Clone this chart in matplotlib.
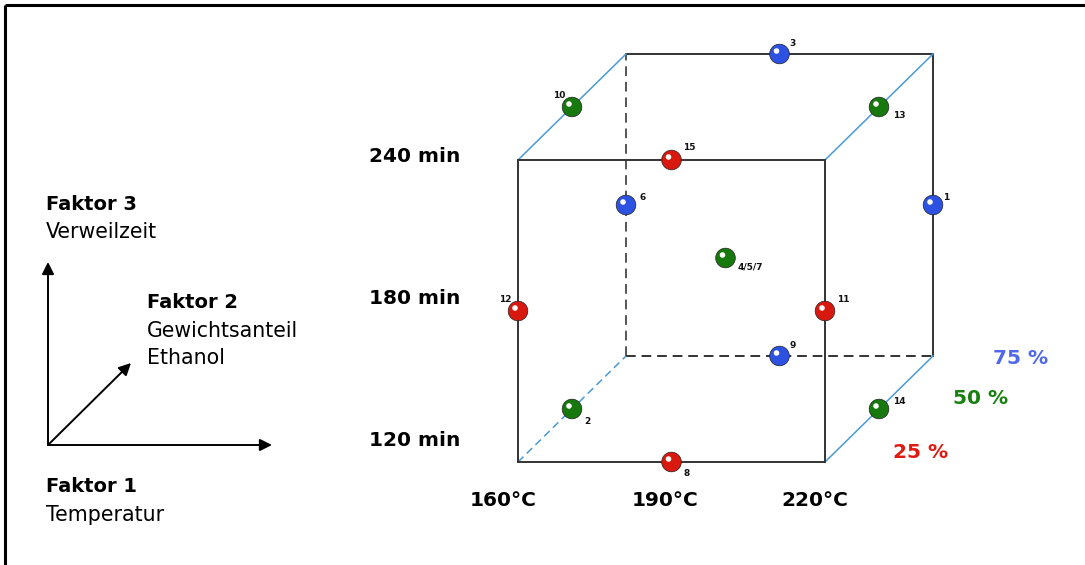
import numpy as np
import matplotlib
matplotlib.use("Agg")
import matplotlib.pyplot as plt

plt.rcParams["font.family"] = ["DejaVu Sans"]

# Box-Behnken design, coded levels (-1, 0, 1)
runs = ["1", "2", "3", "4/5/7", "6", "8", "9", "10", "11", "12", "13", "14", "15"]
temp = [1, -1, 0, 0, -1, 0, 0, -1, 1, -1, 1, 1, 0]
ethanol = [1, 0, 1, 0, 1, -1, 1, 0, -1, -1, 0, 0, -1]
time = [0, -1, 1, 0, 0, -1, -1, 1, 0, 0, 1, -1, 1]

temp_labels = ["160°C", "190°C", "220°C"]
time_labels = ["120 min", "180 min", "240 min"]
eth_labels = ["25 %", "50 %", "75 %"]

eth_colors = {-1: "#d8190f", 0: "#17780e", 1: "#2d52e2"}
eth_text_colors = {-1: "#e01a10", 0: "#17800e", 1: "#5068ea"}

# projection of the cube onto the picture (pixels)
x0, y0 = 518, 462
wx, hz = 307, 302
dx, dy = 108, -106


def proj(t, e, z):
    t, e, z = np.asarray(t, float), np.asarray(e, float), np.asarray(z, float)
    px = x0 + (t + 1) / 2 * wx + (e + 1) / 2 * dx
    py = y0 - (z + 1) / 2 * hz + (e + 1) / 2 * dy
    return px, py


fig = plt.figure(figsize=(10.85, 5.65), dpi=100)
ax = fig.add_axes([0, 0, 1, 1])
ax.set_xlim(0, 1085)
ax.set_ylim(565, 0)
ax.axis("off")

# frame (top and left only, picture is cropped)
ax.plot([5, 1085], [5, 5], color="black", lw=2.2, solid_capstyle="butt")
ax.plot([5, 5], [5, 565], color="black", lw=2.2, solid_capstyle="butt")

dark = "#333333"
blue_edge = "#4a9ad6"


def edge(a, b, color, ls="-", lw=1.4):
    xa, ya = proj(*a)
    xb, yb = proj(*b)
    ax.plot([xa, xb], [ya, yb], color=color, ls=ls, lw=lw, dashes=(5, 3) if ls == "--" else (None, None), zorder=1)


# hidden edges
edge((-1, 1, -1), (-1, 1, 1), "#555555", "--")
edge((-1, 1, -1), (1, 1, -1), dark, "--")
edge((-1, -1, -1), (-1, 1, -1), blue_edge, "--", 1.1)
# back face visible edges
edge((-1, 1, 1), (1, 1, 1), dark)
edge((1, 1, -1), (1, 1, 1), dark)
# depth edges
edge((-1, -1, 1), (-1, 1, 1), blue_edge, lw=1.1)
edge((1, -1, 1), (1, 1, 1), blue_edge, lw=1.1)
edge((1, -1, -1), (1, 1, -1), blue_edge, lw=1.1)
# front face
edge((-1, -1, -1), (1, -1, -1), dark)
edge((-1, -1, 1), (1, -1, 1), dark)
edge((-1, -1, -1), (-1, -1, 1), dark)
edge((1, -1, -1), (1, -1, 1), dark)

# design points as glossy spheres
px, py = proj(temp, ethanol, time)
cols = [eth_colors[e] for e in ethanol]
ax.scatter(px, py, s=200, c=cols, edgecolors="#222222", linewidths=0.5, zorder=3)
ax.scatter(px - 3, py - 3, s=16, c="white", edgecolors="none", zorder=4)

label_off = {"1": (10, -8, "left"), "2": (12, 12, "left"), "3": (10, -10, "left"),
             "4/5/7": (12, 9, "left"), "6": (14, -8, "left"), "8": (12, 12, "left"),
             "9": (10, -10, "left"), "10": (-7, -12, "right"), "11": (12, -12, "left"),
             "12": (-6, -12, "right"), "13": (14, 8, "left"), "14": (14, -7, "left"),
             "15": (12, -12, "left")}
for r, x, y in zip(runs, px, py):
    ox, oy, ha = label_off[r]
    ax.text(x + ox, y + oy, r, fontsize=6.5, fontweight="bold", color="#111111",
            ha=ha, va="center", zorder=5)

# factor level labels
for lvl, lab, off in zip([-1, 0, 1], temp_labels, [-14.5, -6, -10]):
    x, y = proj(lvl, -1, -1)
    ax.text(float(x) + off, 500, lab, fontsize=14.5, fontweight="bold", ha="center", va="center")
for lvl, lab, off in zip([-1, 0, 1], time_labels, [-22, -13, -3]):
    x, y = proj(-1, -1, lvl)
    ax.text(460, float(y) + off, lab, fontsize=14.5, fontweight="bold", ha="right", va="center")
for lvl, lab, offx, offy in zip([-1, 0, 1], eth_labels, [96, 102, 88], [-10, -10, 3]):
    x, y = proj(1, lvl, -1)
    ax.text(float(x) + offx, float(y) + offy, lab, fontsize=14.5, fontweight="bold",
            color=eth_text_colors[lvl], ha="center", va="center")

# factor legend on the left
arrow = dict(arrowstyle="-|>", color="black", lw=1.4, mutation_scale=18, shrinkA=0, shrinkB=0)
ax.annotate("", xy=(48, 262), xytext=(48, 445), arrowprops=arrow)
ax.annotate("", xy=(272, 445), xytext=(48, 445), arrowprops=arrow)
ax.annotate("", xy=(131, 363), xytext=(48, 445), arrowprops=arrow)

ax.text(46, 205, "Faktor 3", fontsize=14, fontweight="bold", va="center")
ax.text(46, 232, "Verweilzeit", fontsize=14.8, va="center")
ax.text(147, 303, "Faktor 2", fontsize=14, fontweight="bold", va="center")
ax.text(147, 331, "Gewichtsanteil", fontsize=14.8, va="center")
ax.text(147, 358, "Ethanol", fontsize=14.8, va="center")
ax.text(46, 487, "Faktor 1", fontsize=14, fontweight="bold", va="center")
ax.text(46, 515, "Temperatur", fontsize=14.8, va="center")

fig.savefig("out.png", dpi=100)
